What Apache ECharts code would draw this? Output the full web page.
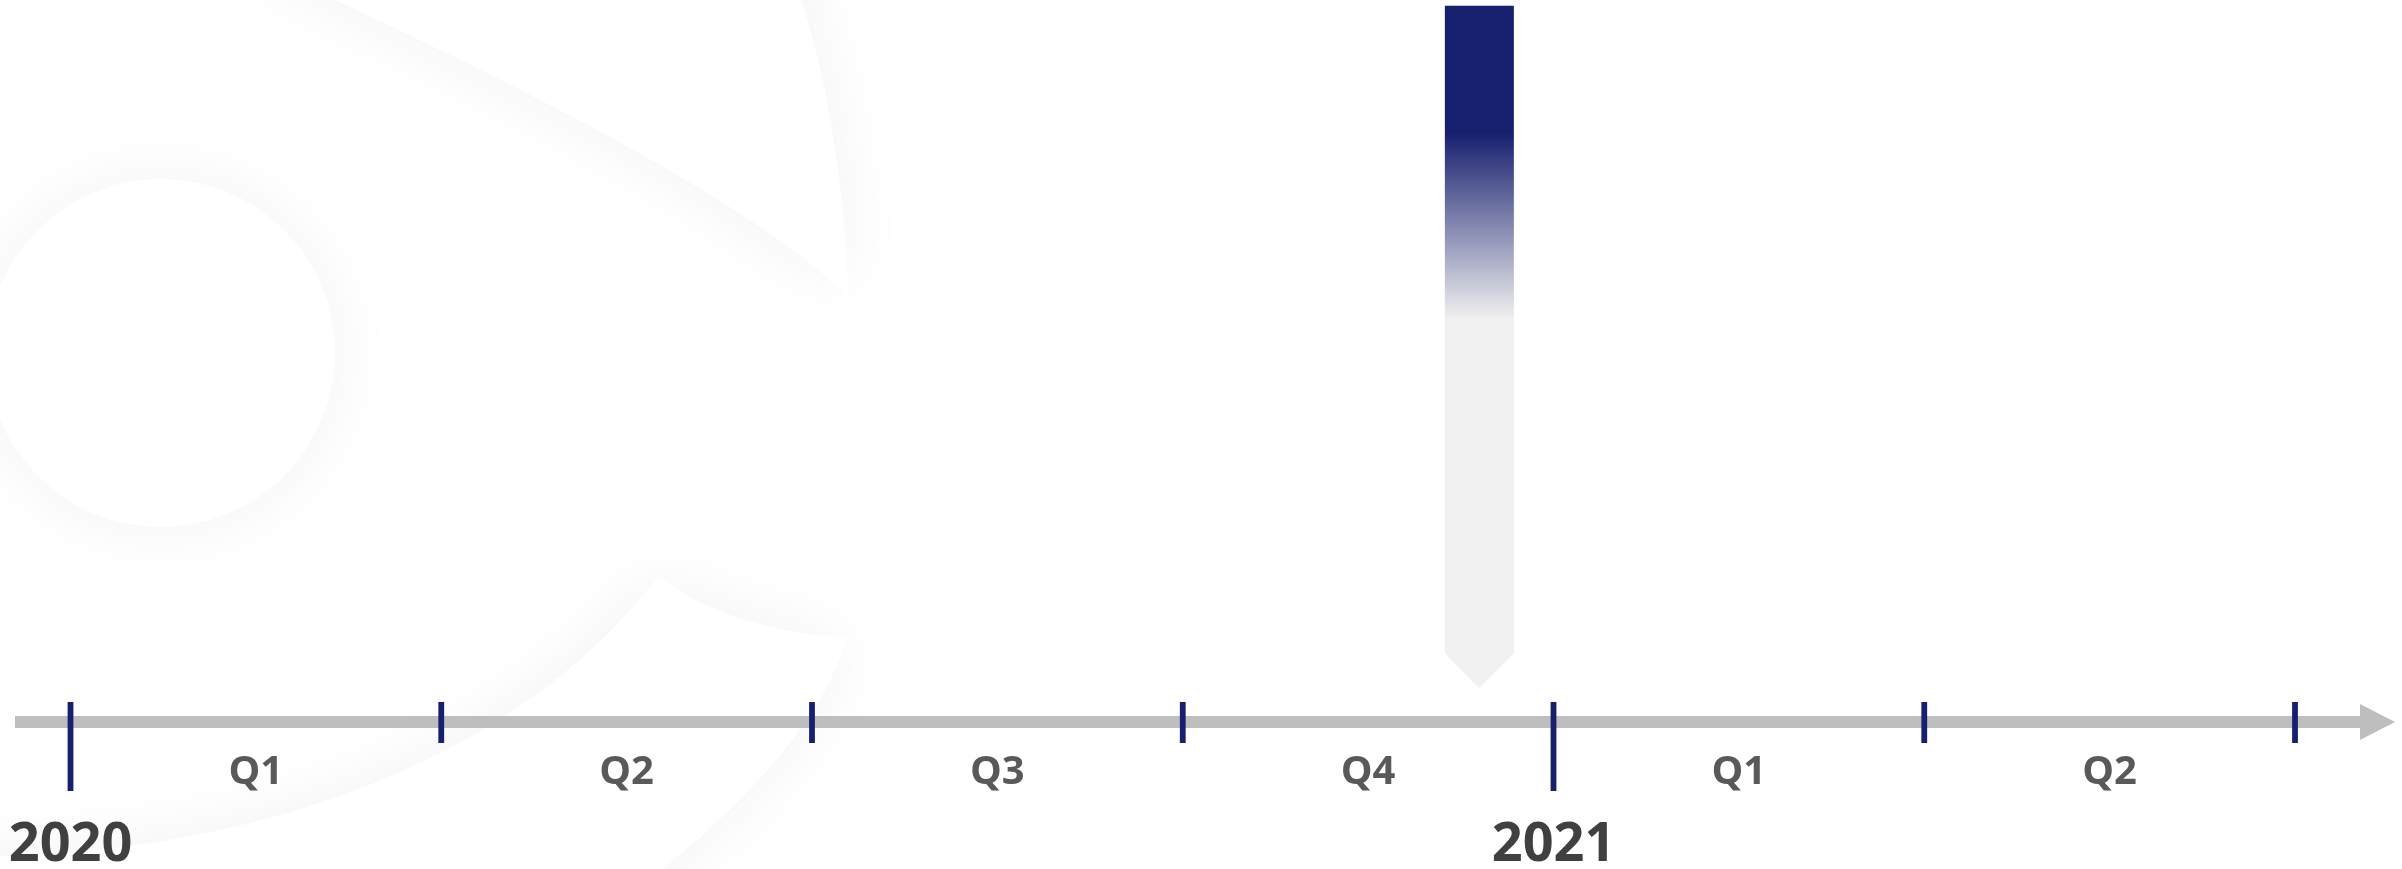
<!DOCTYPE html>
<html>
<head>
<meta charset="utf-8">
<script src="https://cdn.jsdelivr.net/npm/echarts@6/dist/echarts.min.js"></script>
<style>
html, body { margin: 0; padding: 0; background: #ffffff; }
#main { width: 2402px; height: 869px; }
</style>
</head>
<body>
<div id="main"></div>
<script>
// ---- Data (x unit = quarters since start of 2020) ----
const tickPositions = [0, 1, 2, 3, 4, 5, 6];
const yearPositions = [0, 4];
const yearLabels = ['2020', '2021'];
const quarterPositions = [0.5, 1.5, 2.5, 3.5, 4.5, 5.5];
const quarterLabels = ['Q1', 'Q2', 'Q3', 'Q4', 'Q1', 'Q2'];
const markerPosition = [3.8];   // current point in time (≈ mid Nov 2020)
const markerTop = [99.2];
const markerTip = [4.7];

// ---- Styles ----
const NAVY = '#171F6F';
const AXIS_GREY = '#BEBEBE';

const chart = echarts.init(document.getElementById('main'), null, { renderer: 'canvas' });

const tickData = tickPositions.map(v => [v, yearPositions.indexOf(v) >= 0 ? 1 : 0]);
const quarterData = quarterPositions.map((v, i) => [v, quarterLabels[i]]);
const yearData = yearPositions.map((v, i) => [v, yearLabels[i]]);
const markerData = markerPosition.map((v, i) => [v, markerTop[i], markerTip[i]]);

// ---- decorative background watermark (pixel outline helpers) ----
function cubic(p0, p1, p2, p3, n) {
  const out = [];
  for (let i = 1; i <= n; i++) {
    const t = i / n, u = 1 - t;
    out.push([
      u*u*u*p0[0] + 3*u*u*t*p1[0] + 3*u*t*t*p2[0] + t*t*t*p3[0],
      u*u*u*p0[1] + 3*u*u*t*p1[1] + 3*u*t*t*p2[1] + t*t*t*p3[1]
    ]);
  }
  return out;
}
function quad(p0, p1, p2, n) {
  const out = [];
  for (let i = 1; i <= n; i++) {
    const t = i / n, u = 1 - t;
    out.push([u*u*p0[0] + 2*u*t*p1[0] + t*t*p2[0], u*u*p0[1] + 2*u*t*p1[1] + t*t*p2[1]]);
  }
  return out;
}
const blade1 = [[90, -130], [335, 0]]
  .concat(cubic([335, 0], [560, 105], [760, 210], [848, 297], 40))
  .concat(cubic([848, 297], [845, 180], [825, 70], [801, 0], 30))
  .concat([[790, -130]]);
const blade2 = [[-120, 858], [0, 856]]
  .concat(cubic([0, 856], [260, 850], [520, 760], [659, 575], 40))
  .concat(quad([659, 575], [720, 628], [847, 638], 25))
  .concat(quad([847, 638], [815, 745], [663, 869], 25))
  .concat([[580, 980], [-120, 980]]);

const shadowStyle = { fill: '#ffffff', shadowBlur: 70, shadowColor: 'rgba(0,0,0,0.05)' };

const option = {
  backgroundColor: '#ffffff',
  animation: false,
  graphic: {
    elements: [
      { type: 'circle', z: -10, silent: true, shape: { cx: 161, cy: 353, r: 174 }, style: shadowStyle },
      { type: 'polygon', z: -10, silent: true, shape: { points: blade1 }, style: shadowStyle },
      { type: 'polygon', z: -10, silent: true, shape: { points: blade2 }, style: shadowStyle }
    ]
  },
  grid: { left: 15, right: 24.5, top: 0, bottom: 147, containLabel: false },
  xAxis: {
    type: 'value',
    min: -0.1497,
    max: 6.2225,
    splitLine: { show: false },
    axisTick: { show: false },
    axisLabel: { show: false },
    axisLine: {
      show: true,
      onZero: false,
      symbol: ['none', 'triangle'],
      symbolSize: [36, 35],
      lineStyle: { color: AXIS_GREY, width: 12, cap: 'butt' }
    }
  },
  yAxis: { type: 'value', min: 0, max: 100, show: false },
  series: [
    {
      name: 'marker',
      type: 'custom',
      z: 3,
      clip: false,
      data: markerData,
      renderItem: function (params, api) {
        const top = api.coord([api.value(0), api.value(1)]);
        const tip = api.coord([api.value(0), api.value(2)]);
        const half = 34.5;
        const cx = top[0];
        return {
          type: 'polygon',
          shape: {
            points: [
              [cx - half, top[1]],
              [cx + half, top[1]],
              [cx + half, tip[1] - half],
              [cx, tip[1]],
              [cx - half, tip[1] - half]
            ]
          },
          style: {
            fill: {
              type: 'linear', x: 0, y: 0, x2: 0, y2: 1,
              colorStops: [
                { offset: 0, color: NAVY },
                { offset: 0.186, color: NAVY },
                { offset: 0.46, color: '#F1F1F1' },
                { offset: 1, color: '#F1F1F1' }
              ]
            }
          }
        };
      }
    },
    {
      name: 'ticks',
      type: 'custom',
      z: 4,
      clip: false,
      data: tickData,
      renderItem: function (params, api) {
        const p = api.coord([api.value(0), 0]);
        const isYear = api.value(1) === 1;
        return {
          type: 'rect',
          shape: { x: p[0] - 2.9, y: p[1] - 20, width: 5.8, height: isYear ? 89 : 41 },
          style: { fill: NAVY }
        };
      }
    },
    {
      name: 'quarters',
      type: 'custom',
      z: 4,
      clip: false,
      data: quarterData,
      renderItem: function (params, api) {
        const p = api.coord([api.value(0), 0]);
        return {
          type: 'text',
          style: {
            x: p[0], y: p[1] + 51,
            text: quarterLabels[params.dataIndex],
            fill: '#595959',
            font: 'bold 40px "Open Sans", sans-serif',
            align: 'center',
            verticalAlign: 'middle'
          }
        };
      }
    },
    {
      name: 'years',
      type: 'custom',
      z: 4,
      clip: false,
      data: yearData,
      renderItem: function (params, api) {
        const p = api.coord([api.value(0), 0]);
        return {
          type: 'text',
          style: {
            x: p[0], y: p[1] + 124,
            text: yearLabels[params.dataIndex],
            fill: '#404040',
            font: 'bold 54px "Open Sans", sans-serif',
            align: 'center',
            verticalAlign: 'middle'
          }
        };
      }
    }
  ]
};

chart.setOption(option);
</script>
</body>
</html>
